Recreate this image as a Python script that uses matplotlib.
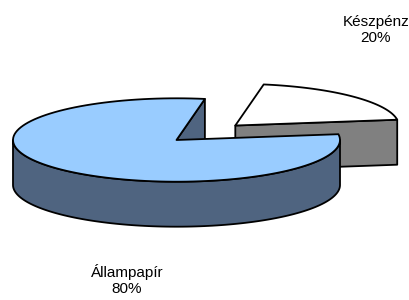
import numpy as np
import matplotlib.pyplot as plt
from matplotlib.patches import Polygon

# adatok
labels = ['Készpénz', 'Állampapír']
values = [20, 80]
explode = [0.5, 0.0]
top_colors = ['#FFFFFF', '#99CCFF']
side_colors = ['#808080', '#4F6480']

# a 3D torta geometriája (pixelben)
cx, cy = 176.5, 140.0
rx, ry = 163.5, 41.7
depth = 45.0
start = 8.0

fig = plt.figure(figsize=(4.1, 3.0), dpi=100)
ax = fig.add_axes([0, 0, 1, 1])
ax.set_xlim(0, 410)
ax.set_ylim(300, 0)
ax.axis('off')


def arc(x0, y0, t1, t2, dz=0.0, n=120):
    t = np.radians(np.linspace(t1, t2, n))
    return np.column_stack([x0 + rx * np.cos(t), y0 - ry * np.sin(t) + dz])


def face(pts, color):
    ax.add_patch(Polygon(pts, closed=True, facecolor=color, edgecolor='black',
                         lw=1.3, joinstyle='round'))


total = sum(values)
slices = []
t = start
for lab, v, ex, tc, sc in zip(labels, values, explode, top_colors, side_colors):
    span = 360.0 * v / total
    t1, t2 = t, t + span
    mid = np.radians((t1 + t2) / 2)
    x0 = cx + ex * rx * np.cos(mid)
    y0 = cy - ex * ry * np.sin(mid)
    slices.append((np.sin(mid), t1, t2, x0, y0, tc, sc))
    t = t2

# hátsó szeletek először
for _, t1, t2, x0, y0, tc, sc in sorted(slices, key=lambda s: -s[0]):
    # vágott oldallapok
    for ang, vis in ((t1, np.cos(np.radians(t1)) > 0), (t2, np.cos(np.radians(t2)) < 0)):
        if vis:
            e = arc(x0, y0, ang, ang, n=1)[0]
            face([(x0, y0), tuple(e), (e[0], e[1] + depth), (x0, y0 + depth)], sc)
    # külső palást (csak az elülső rész)
    for k in (-1, 0, 1):
        a = max(t1, 180 + 360 * k)
        b = min(t2, 360 + 360 * k)
        if b > a:
            top = arc(x0, y0, a, b)
            bot = arc(x0, y0, a, b, dz=depth)[::-1]
            face(np.vstack([top, bot]), sc)
    # fedőlap
    face(np.vstack([[x0, y0], arc(x0, y0, t1, t2)]), tc)

# feliratok
pos = {'Készpénz': (376, 30), 'Állampapír': (127, 280)}
for lab, v in zip(labels, values):
    ax.text(*pos[lab], f'{lab}\n{round(100 * v / total)}%', ha='center', va='center',
            fontsize=11, family='Liberation Sans', linespacing=1.25)

fig.savefig('out.png', dpi=100)
